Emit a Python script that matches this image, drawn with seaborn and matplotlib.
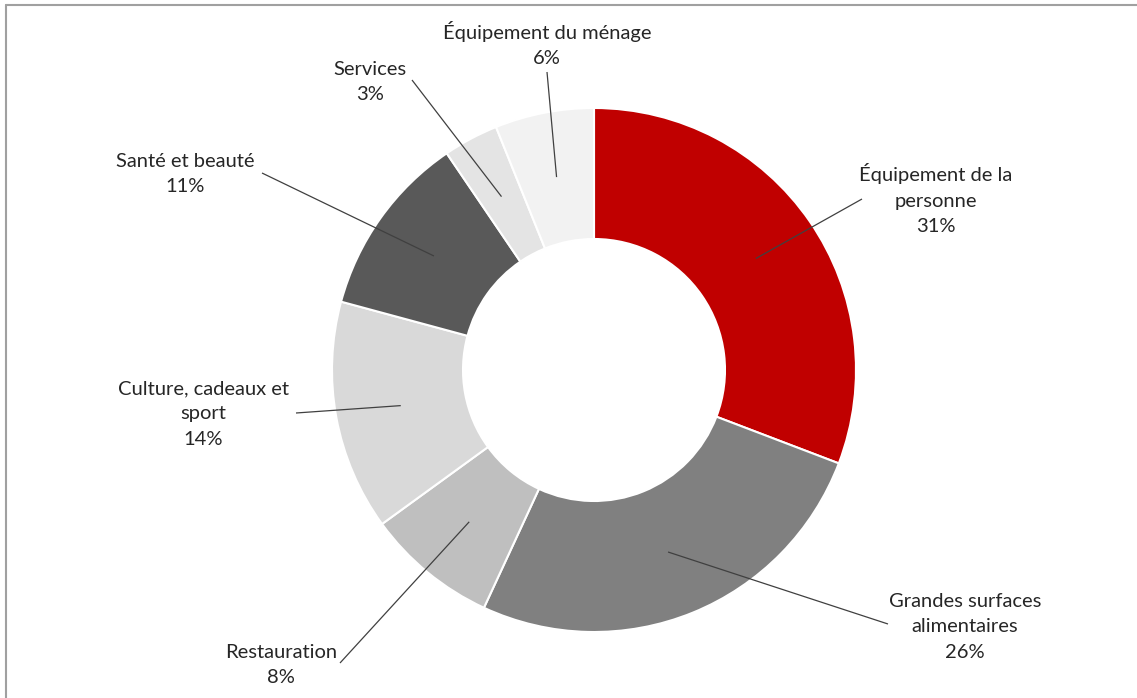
import numpy as np
import matplotlib
matplotlib.use("Agg")
import matplotlib.pyplot as plt
import seaborn as sns

categories = ["Équipement de la\npersonne", "Grandes surfaces\nalimentaires", "Restauration",
              "Culture, cadeaux et\nsport", "Santé et beauté", "Services", "Équipement du ménage"]
values = [30.8, 26.1, 8.1, 14.2, 11.3, 3.4, 6.1]
colors = ["#C00000", "#808080", "#BFBFBF", "#D9D9D9", "#595959", "#E4E4E4", "#F2F2F2"]

# label text anchor positions (pixel coords, y from top) and leader-line outer ends
label_pos = [(936, 199), (965, 627), (281, 665), (203, 414), (185, 174), (370, 82), (547, 44)]
line_ends = [(862, 199), (888, 624), (340, 663), (296, 413), (262, 173), (412, 80), (547, 72)]

sns.set_theme(style="white")
plt.rcParams['font.family'] = ['Lato', 'DejaVu Sans']

W, H = 1137, 698
fig = plt.figure(figsize=(W / 100, H / 100), dpi=100)
ax = fig.add_axes([0, 0, 1, 1])

cx, cy, R = 594, H - 370, 262
wedges, _ = ax.pie(values, colors=colors, startangle=90, counterclock=False,
                   center=(cx, cy), radius=R, frame=True,
                   wedgeprops=dict(width=R * 0.5, edgecolor='white', linewidth=1.5))
ax.set_xlim(0, W)
ax.set_ylim(0, H)
ax.set_aspect('equal')
ax.axis('off')

rmid = R * 0.75
for w, cat, v, (lx, ly), (ex, ey) in zip(wedges, categories, values, label_pos, line_ends):
    ang = np.deg2rad((w.theta1 + w.theta2) / 2)
    px, py = cx + rmid * np.cos(ang), cy + rmid * np.sin(ang)
    ax.plot([px, ex], [py, H - ey], color='#404040', lw=0.9, solid_capstyle='butt')
    ax.text(lx, H - ly, f"{cat}\n{v:.0f}%", ha='center', va='center', fontsize=14.5,
            color='#262626', linespacing=1.58)

# chart-area border (top and left visible)
fig.add_artist(plt.Line2D([6 / W, 1], [1 - 5 / H, 1 - 5 / H], color='#A0A0A0', lw=1.5,
                          transform=fig.transFigure))
fig.add_artist(plt.Line2D([6 / W, 6 / W], [0, 1 - 5 / H], color='#A0A0A0', lw=1.5,
                          transform=fig.transFigure))

fig.savefig("out.png", dpi=100, facecolor='white')
